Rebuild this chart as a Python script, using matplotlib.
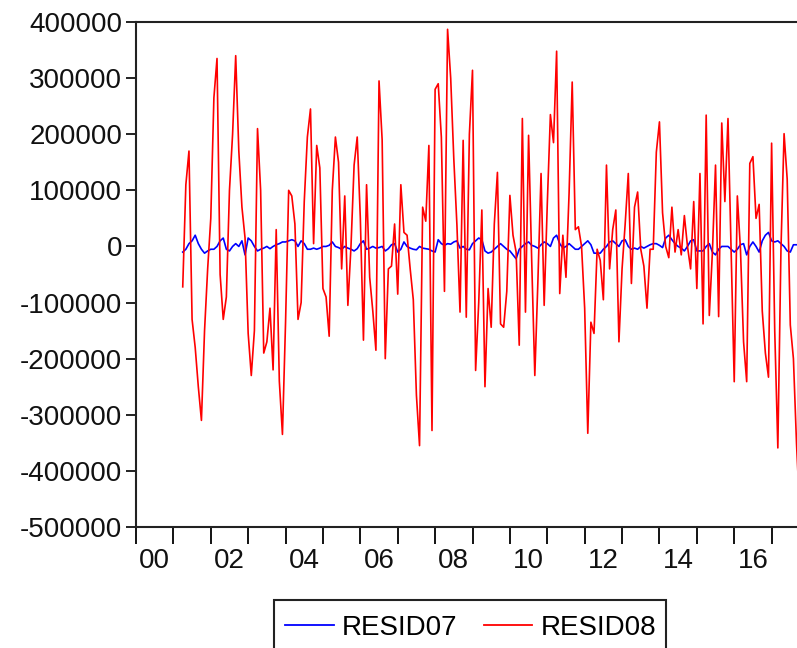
import matplotlib
matplotlib.use("Agg")
import matplotlib.pyplot as plt
from matplotlib.patches import Rectangle
from matplotlib.lines import Line2D
import numpy as np

plt.rcParams['font.family'] = ['Liberation Sans', 'DejaVu Sans']

start_year = 2001.25  # 2001M04
resid08 = [
    -72000, 110000, 170000, -130000, -180000, -250000, -310000, -150000, -40000, 50000,
    265000, 335000, -50000, -130000, -90000, 100000, 200000, 340000, 170000, 70000,
    15000, -155000, -230000, -150000, 210000, 100000, -190000, -170000,
    -110000, -220000, 30000, -240000, -335000, -135000, 100000, 90000, 40000, -130000,
    -100000, 80000, 195000, 245000, 5000, 180000, 140000, -75000, -90000, -160000,
    100000, 195000, 150000, -40000, 90000, -105000, 0, 145000,
    195000, 50000, -167000, 110000, -55000, -115000, -185000, 295000, 190000, -200000,
    -40000, -35000, 40000, -85000, 110000, 25000, 20000, -40000, -95000, -265000,
    -355000, 70000, 45000, 180000, -328000, 280000, 290000, 195000,
    -80000, 387000, 300000, 156000, 38000, -117000, 189000, -126000, 200000, 314000,
    -221000, -100000, 65000, -250000, -75000, -144000, 40000, 132000, -138000, -144000,
    -80000, 91000, 20000, -10000, -176000, 228000, -117000, 198000,
    -25000, -230000, -60000, 130000, -105000, 75000, 235000, 185000, 348000, -84000,
    20000, -55000, 95000, 293000, 30000, 35000, 0, -110000, -333000, -135000,
    -155000, -5000, -25000, -95000, 145000, -40000, 30000, 65000,
    -170000, -40000, 40000, 130000, -66000, 70000, 97000, -5000, -35000, -110000,
    -5000, -5000, 168000, 222000, 60000, 0, -20000, 70000, -10000, 30000,
    -15000, 55000, 0, -40000, 80000, -75000, 130000, -138000, 234000,
    -123000, -10000, 145000, -125000, 220000, 80000, 228000, -10000, -241000, 90000,
    -5000, -170000, -241000, 148000, 160000, 50000, 75000, -115000, -190000, -233000,
    184000, -150000, -359000, -5000, 201000, 120000, -140000, -200000, -352000, -470000,
]
resid07 = [
    -10000, -5000, 5000, 10000, 20000, 5000, -5000, -12000, -8000, -5000,
    -5000, 0, 10000, 15000, -5000, -8000, 0, 5000, 0, 10000,
    -15000, 15000, 10000, 0, -8000, -5000, -3000, 0,
    -4000, 0, 3000, 5000, 8000, 8000, 10000, 12000, 10000, 0,
    10000, 5000, -5000, -5000, -3000, -5000, -3000, 0, 0, 2000,
    8000, 0, -2000, -5000, 0, -3000, -5000, -8000,
    -4000, 5000, 10000, -5000, -3000, 0, -3000, -2000, 0, -8000,
    -4000, 3000, 5000, -10000, -5000, 8000, 0, -3000, -5000, -6000,
    0, -3000, -4000, -5000, -8000, -10000, 12000, 5000,
    2000, 5000, 4000, 8000, 10000, -3000, 0, -5000, -6000, 5000,
    10000, 15000, 12000, -8000, -12000, -10000, -5000, 0, 5000, 0,
    -5000, -8000, -15000, -22000, -5000, 0, 5000, 8000,
    2000, 0, -3000, 3000, 8000, 5000, 0, 15000, 20000, 5000,
    -3000, 0, 5000, 0, -5000, -5000, 0, 5000, 10000, 3000,
    -12000, -12000, -12000, -5000, 0, 8000, 10000, 5000,
    0, 10000, 12000, 0, -5000, -3000, -5000, 0, -3000, 0,
    3000, 5000, 5000, 2000, -2000, 15000, 20000, 12000, 5000, 0,
    -3000, -8000, 0, 10000, 12000, -8000, -8000, -8000, 0,
    5000, -10000, -15000, -5000, 0, 0, 0, -5000, -10000, -5000,
    3000, 5000, -15000, 0, 8000, 0, -10000, 10000, 20000, 25000,
    10000, 8000, 10000, 5000, 0, -8000, -10000, 3000, 3000, 3000,
]
series_names = ["RESID07", "RESID08"]
year_ticks = list(range(2000, 2019))
year_labels = ["00", "02", "04", "06", "08", "10", "12", "14", "16"]
y_ticks = [400000, 300000, 200000, 100000, 0, -100000, -200000, -300000, -400000, -500000]

n = min(len(resid07), len(resid08))
x = start_year + np.arange(n) / 12.0

W, H = 797, 648
fig = plt.figure(figsize=(W / 100, H / 100), dpi=100)
ax = fig.add_axes([136 / W, 1 - 527 / H, 673 / W, 505 / H])

ax.plot(x, resid07[:n], color='#0000ff', lw=1.2)
ax.plot(x, resid08[:n], color='#ff0000', lw=1.2)

ax.set_xlim(2000, 2018)
ax.set_ylim(-500000, 400000)
ax.set_yticks(y_ticks)
ax.set_yticklabels([str(v) for v in y_ticks])
ax.set_xticks(year_ticks)
ax.set_xticklabels([])
ax.set_xticks([int("20" + s) + 0.5 for s in year_labels], minor=True)
ax.set_xticklabels(year_labels, minor=True)

ax.tick_params(axis='y', direction='out', length=7, width=1.3, labelsize=20, pad=3, colors='#111111')
ax.tick_params(axis='x', which='major', direction='out', length=12, width=1.3)
ax.tick_params(axis='x', which='minor', length=0, labelsize=20, pad=15, colors='#111111')
for s in ax.spines.values():
    s.set_linewidth(1.5)
    s.set_color('#222222')

# legend box (cut by the bottom edge as in the reference)
rect = Rectangle((274 / W, 1 - 665 / H), (666 - 274) / W, 65 / H, transform=fig.transFigure,
                 fill=False, edgecolor='#222222', lw=1.5)
fig.patches.append(rect)
handles = [Line2D([0], [0], color='#0000ff', lw=1.3), Line2D([0], [0], color='#ff0000', lw=1.3)]
fig.legend(handles, series_names, loc='center left', bbox_to_anchor=(285 / W, 1 - 628 / H),
           ncol=2, frameon=False, fontsize=20, handlelength=1.75, handletextpad=0.3,
           columnspacing=0.95, borderaxespad=0, borderpad=0)

fig.savefig("out.png", dpi=100)
